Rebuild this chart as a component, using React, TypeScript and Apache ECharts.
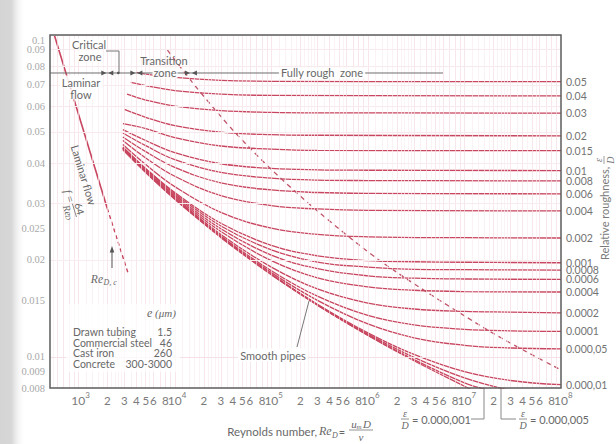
import React, { useEffect, useRef } from 'react';
import * as echarts from 'echarts';

const SANS = 'Lato, "Open Sans", "DejaVu Sans", sans-serif';
const SERIF = '"Liberation Serif", "DejaVu Serif", serif';
const CURVE_COLOR = '#c8465f';
const TEXT_COLOR = '#686868';

// ---- data: [Reynolds number, friction factor] ----
const roughnessLabels = ['0.05', '0.04', '0.03', '0.02', '0.015', '0.01', '0.008', '0.006', '0.004', '0.002', '0.001', '0.0008', '0.0006', '0.0004', '0.0002', '0.0001', '0.000,05', '0.000,01'];

const eps0_05 = [[4000, 0.0765], [5000, 0.0756], [1e4, 0.0738], [3e4, 0.0723], [1e5, 0.0718], [1e8, 0.0716]];
const eps0_04 = [[3500, 0.0712], [5000, 0.0696], [1e4, 0.0672], [3e4, 0.0655], [1e5, 0.0649], [1e8, 0.0647]];
const eps0_03 = [[3200, 0.0655], [5000, 0.0628], [1e4, 0.0601], [3e4, 0.0582], [1e5, 0.0575], [3e5, 0.0573], [1e8, 0.0572]];
const eps0_02 = [[3000, 0.0587], [5000, 0.0555], [1e4, 0.0523], [3e4, 0.0499], [1e5, 0.049], [3e5, 0.0488], [1e8, 0.0486]];
const eps0_015 = [[2900, 0.053], [5000, 0.0512], [1e4, 0.048], [3e4, 0.0452], [1e5, 0.0442], [3e5, 0.0438], [1e8, 0.0437]];
const eps0_01 = [[2900, 0.0508], [5000, 0.047], [1e4, 0.0431], [3e4, 0.0398], [1e5, 0.0385], [3e5, 0.0381], [1e6, 0.038], [1e8, 0.0379]];
const eps0_008 = [[2900, 0.0496], [5000, 0.0453], [1e4, 0.041], [3e4, 0.0374], [1e5, 0.0359], [3e5, 0.0354], [1e6, 0.0353], [1e8, 0.0352]];
const eps0_006 = [[2900, 0.0482], [5000, 0.0434], [1e4, 0.0388], [3e4, 0.0347], [1e5, 0.033], [3e5, 0.0324], [1e6, 0.0322], [1e8, 0.0321]];
const eps0_004 = [[2900, 0.047], [5000, 0.0415], [1e4, 0.0364], [3e4, 0.0317], [1e5, 0.0295], [3e5, 0.0288], [1e6, 0.0285], [1e8, 0.0284]];
const eps0_002 = [[2900, 0.0457], [5000, 0.0396], [1e4, 0.0338], [3e4, 0.0281], [1e5, 0.0251], [3e5, 0.024], [1e6, 0.0236], [1e7, 0.02345], [1e8, 0.0234]];
const eps0_001 = [[2900, 0.0449], [5000, 0.0385], [1e4, 0.0324], [3e4, 0.026], [1e5, 0.0222], [3e5, 0.0206], [1e6, 0.0199], [3e6, 0.01974], [1e7, 0.01967], [1e8, 0.0196]];
const eps0_0008 = [[2900, 0.0447], [5000, 0.0383], [1e4, 0.0321], [3e4, 0.0255], [1e5, 0.0215], [3e5, 0.0197], [1e6, 0.019], [3e6, 0.0187], [1e7, 0.01865], [1e8, 0.0186]];
const eps0_0006 = [[2900, 0.0446], [5000, 0.038], [1e4, 0.0318], [3e4, 0.025], [1e5, 0.0207], [3e5, 0.0188], [1e6, 0.01785], [3e6, 0.01756], [1e7, 0.01745], [1e8, 0.0174]];
const eps0_0004 = [[2900, 0.0445], [5000, 0.0378], [1e4, 0.0315], [3e4, 0.0245], [1e5, 0.0199], [3e5, 0.0176], [1e6, 0.0165], [3e6, 0.0161], [1e7, 0.01595], [1e8, 0.0159]];
const eps0_0002 = [[2900, 0.0444], [5000, 0.0376], [1e4, 0.0312], [3e4, 0.024], [1e5, 0.019], [3e5, 0.01625], [1e6, 0.01468], [3e6, 0.01408], [1e7, 0.01384], [3e7, 0.01377], [1e8, 0.0137]];
const eps0_0001 = [[2900, 0.0443], [5000, 0.0375], [1e4, 0.031], [3e4, 0.02374], [1e5, 0.01852], [3e5, 0.01543], [1e6, 0.01344], [3e6, 0.01256], [1e7, 0.01217], [3e7, 0.01204], [1e8, 0.012]];
const eps0_00005 = [[1e4, 0.0309], [3e4, 0.02361], [1e5, 0.01826], [3e5, 0.01498], [1e6, 0.01265], [3e6, 0.01146], [1e7, 0.01086], [3e7, 0.01065], [1e8, 0.01058]];
const eps0_00001 = [[3e4, 0.0235], [1e5, 0.01805], [3e5, 0.01457], [1e6, 0.01187], [3e6, 0.01017], [1e7, 0.00899], [3e7, 0.00844], [1e8, 0.00819]];
const eps0_000005 = [[1e5, 0.018], [3e5, 0.01452], [1e6, 0.01176], [3e6, 0.00996], [1e7, 0.0086], [3e7, 0.00786]];
const eps0_000001 = [[3e5, 0.01447], [1e6, 0.01168], [3e6, 0.0098], [1e7, 0.0083], [1.7e7, 0.0079]];
const smoothPipe = [[2900, 0.044], [5000, 0.03738], [1e4, 0.03089], [3e4, 0.02349], [1e5, 0.01799], [3e5, 0.01446], [1e6, 0.01165], [3e6, 0.00972], [1e7, 0.0081], [1.3e7, 0.0078]];

const laminarSolid = [[565, 0.1], [2000, 0.0289]];
const laminarDashed = [[2000, 0.0289], [3300, 0.0181]];
const fullyRoughBoundary = [[8400, 0.0897], [15000, 0.0716], [28000, 0.0572], [45000, 0.0487], [103000, 0.0379], [300000, 0.0284], [1.43e6, 0.0196], [1.83e7, 0.012], [1e8, 0.0091]];

const roughCurves = [eps0_05, eps0_04, eps0_03, eps0_02, eps0_015, eps0_01, eps0_008, eps0_006, eps0_004, eps0_002, eps0_001, eps0_0008, eps0_0006, eps0_0004, eps0_0002, eps0_0001, eps0_00005, eps0_00001];
const unlabeledCurves = [eps0_000005, eps0_000001, smoothPipe];

const xDecades = [3, 4, 5, 6, 7, 8];
const xMantissaLabels = [2, 3, 4, 5, 6, 8];
const yTickValues = [0.1, 0.09, 0.08, 0.07, 0.06, 0.05, 0.04, 0.03, 0.025, 0.02, 0.015, 0.01, 0.009, 0.008];
const yTickLabels = ['0.1', '0.09', '0.08', '0.07', '0.06', '0.05', '0.04', '0.03', '0.025', '0.02', '0.015', '0.01', '0.009', '0.008'];
const zoneBoundaries = [2000, 4000, 14700];
const materials = ['Drawn tubing', 'Commercial steel', 'Cast iron', 'Concrete'];
const materialRoughness = ['1.5', '46', '260', '300-3000'];

// ---- grid line positions (paper grid) ----
const GRID_MAJOR = '#f3dde2';
const GRID_MINOR = '#f8ecef';
const xGridMantissas = [1, 1.2, 1.4, 1.6, 1.8, 2, 2.2, 2.4, 2.6, 2.8, 3, 3.5, 4, 4.5, 5, 5.5, 6, 7, 8, 9];
function gridLines() {
  const out: any[] = [];
  for (let d = 2; d <= 7; d++) {
    for (const m of xGridMantissas) {
      const v = m * Math.pow(10, d);
      if (v > 515 && v < 0.99e8) {
        const major = Number.isInteger(m);
        out.push({ xAxis: v, lineStyle: { color: major ? GRID_MAJOR : GRID_MINOR, width: 0.7, type: 'solid' } });
      }
    }
  }
  const segs = [[80, 150, 5, 10], [150, 300, 10, 50], [300, 500, 20, 100], [500, 1000, 25, 100]];
  for (const [a, b, s, maj] of segs) {
    for (let k = a; k < b; k += s) {
      if (k === 80) continue;
      const major = k % maj === 0;
      out.push({ yAxis: k / 1e4, lineStyle: { color: major ? GRID_MAJOR : GRID_MINOR, width: 0.7, type: 'solid' } });
    }
  }
  return out;
}

function buildOption() {
  const base = { type: 'line', showSymbol: false, symbol: 'none', smooth: 0.4, silent: true, clip: true, z: 3 };
  const series: any[] = [];
  series.push({
    type: 'line', data: [[1e4, 0.05]], showSymbol: false, symbol: 'none', lineStyle: { opacity: 0 }, z: 1, silent: true,
    markLine: { silent: true, symbol: ['none', 'none'], animation: false, label: { show: false }, emphasis: { disabled: true }, lineStyle: { color: GRID_MINOR, width: 0.7, type: 'solid' }, data: gridLines() },
  });
  roughCurves.forEach((c, i) => {
    series.push({
      ...base, data: c, lineStyle: { color: CURVE_COLOR, width: 1.3 },
      endLabel: { show: true, formatter: roughnessLabels[i], color: '#737373', fontSize: 10.5, fontFamily: SANS, distance: 5 },
    });
  });
  unlabeledCurves.forEach((c) => series.push({ ...base, data: c, lineStyle: { color: CURVE_COLOR, width: 1.3 } }));
  series.push({ ...base, smooth: false, data: laminarSolid, lineStyle: { color: CURVE_COLOR, width: 1.6 } });
  series.push({ ...base, smooth: false, data: laminarDashed, lineStyle: { color: CURVE_COLOR, width: 1.4, type: [4, 3] } });
  series.push({ ...base, smooth: 0.3, data: fullyRoughBoundary, lineStyle: { color: '#bf5468', width: 1.3, type: [5, 4] } });
  return {
    animation: false,
    backgroundColor: '#ffffff',
    grid: { left: 50, right: 55, top: 35, bottom: 56, show: false },
    xAxis: { type: 'log', logBase: 10, min: 510, max: 1e8, axisLine: { show: false }, axisTick: { show: false }, axisLabel: { show: false }, splitLine: { show: false } },
    yAxis: { type: 'log', logBase: 10, min: 0.008, max: 0.1, axisLine: { show: false }, axisTick: { show: false }, axisLabel: { show: false }, splitLine: { show: false } },
    series,
  };
}

function buildGraphics(chart: any) {
  const P = (re: number, f: number) => chart.convertToPixel({ gridIndex: 0 }, [re, f]) as number[];
  const [L, T] = P(510, 0.1);
  const [R, B] = P(1e8, 0.008);
  const els: any[] = [];
  const text = (t: string, x: number, y: number, o: any = {}) => els.push({
    type: 'text', x, y, z: o.z ?? 20, silent: true,
    style: {
      text: t, fill: o.fill ?? TEXT_COLOR, fontSize: o.size ?? 11, fontFamily: o.family ?? SANS,
      fontStyle: o.italic ? 'italic' : 'normal', align: o.align ?? 'left', verticalAlign: o.va ?? 'middle',
      backgroundColor: o.bg, padding: o.pad,
    },
  });
  const line = (x1: number, y1: number, x2: number, y2: number, o: any = {}) => els.push({
    type: 'line', z: o.z ?? 20, silent: true, shape: { x1, y1, x2, y2 }, style: { stroke: o.stroke ?? '#7a7a7a', lineWidth: o.w ?? 1 },
  });
  const poly = (pts: number[][], fill = '#555') => els.push({ type: 'polygon', z: 21, silent: true, shape: { points: pts }, style: { fill } });

  // book gutter shading at the left edge
  els.push({
    type: 'rect', z: 0, silent: true, shape: { x: 0, y: 0, width: 26, height: 444 },
    style: { fill: { type: 'linear', x: 0, y: 0, x2: 1, y2: 0, colorStops: [{ offset: 0, color: 'rgba(205,205,205,0.85)' }, { offset: 0.45, color: 'rgba(190,190,190,0.6)' }, { offset: 1, color: 'rgba(255,255,255,0)' }] } },
  });

  // plot border
  els.push({ type: 'rect', z: 30, silent: true, shape: { x: L, y: T, width: R - L, height: B - T }, style: { fill: 'none', stroke: '#5c5c5c', lineWidth: 1.5 } });

  // x tick labels
  const ly = B + 12;
  xDecades.forEach((d) => {
    const x0 = P(Math.pow(10, d), 0.05)[0];
    text('10', x0, ly, { align: 'center', size: 12, fill: '#7a7a7a' });
    text(String(d), x0 + 7, ly - 5, { size: 8, fill: '#7a7a7a' });
    if (d < 8) {
      xMantissaLabels.forEach((m) => {
        text(String(m), P(m * Math.pow(10, d), 0.05)[0], ly, { align: 'center', size: 11.5, fill: '#7a7a7a' });
      });
    }
  });

  // y tick labels
  yTickValues.forEach((v, i) => {
    const y = P(1e4, v)[1] + (v === 0.1 ? 5 : 0);
    text(yTickLabels[i], L - 5, y, { align: 'right', family: SERIF, size: 10.5, fill: '#a8a8a8' });
  });

  // zone line with boundary markers
  const y0 = P(1e4, 0.0762)[1];
  const xr1 = P(1.29e5, 0.05)[0];
  const xr2 = P(8.7e5, 0.05)[0];
  const xr3 = P(6.0e6, 0.05)[0];
  line(L, y0, xr1, y0, { stroke: '#6e6e6e', w: 1, z: 18 });
  line(xr2, y0, xr3, y0, { stroke: '#6e6e6e', w: 1, z: 18 });
  zoneBoundaries.forEach((b) => {
    const bx = P(b, 0.05)[0];
    poly([[bx - 6, y0 - 2.5], [bx - 1, y0], [bx - 6, y0 + 2.5]]);
    poly([[bx + 6, y0 - 2.5], [bx + 1, y0], [bx + 6, y0 + 2.5]]);
  });
  els.push({ type: 'circle', z: 21, silent: true, shape: { cx: P(2600, 0.05)[0], cy: y0, r: 1.3 }, style: { fill: '#555' } });

  const bg = 'rgba(255,255,255,0.9)';
  // critical zone
  text('Critical', 89, 44, { align: 'center', bg, pad: [0, 1] });
  text('zone', 90, 56, { align: 'center', bg, pad: [0, 1] });
  line(106, 51, 119, 51, { stroke: '#777' });
  line(119, 51, 119, y0, { stroke: '#777' });
  // laminar flow
  text('Laminar', 81, 82, { align: 'center', bg, pad: [1, 2] });
  text('flow', 81, 94, { align: 'center', bg, pad: [0, 2] });
  // transition zone
  text('Transition', 164, 60, { align: 'center' });
  text('zone', 165, y0, { align: 'center', bg, pad: [0, 1] });
  // fully rough zone
  text('Fully rough  zone', (xr1 + xr2) / 2, y0, { align: 'center', bg, pad: [0, 2] });

  // laminar flow rotated label
  els.push({
    type: 'group', x: 84, y: 175, rotation: -1.274, z: 20, silent: true,
    children: [
      { type: 'text', z: 20, style: { text: 'Laminar flow', x: 0, y: 0, fill: TEXT_COLOR, fontSize: 11, fontFamily: SANS, align: 'center', verticalAlign: 'middle' } },
      { type: 'text', z: 20, style: { text: 'f =', x: 16, y: 20, fill: TEXT_COLOR, fontSize: 11, fontFamily: SERIF, fontStyle: 'italic', align: 'center', verticalAlign: 'middle' } },
      { type: 'text', z: 20, style: { text: '64', x: 31, y: 14, fill: TEXT_COLOR, fontSize: 10, fontFamily: SANS, align: 'center', verticalAlign: 'middle' } },
      { type: 'line', z: 20, shape: { x1: 24, y1: 19.5, x2: 38, y2: 19.5 }, style: { stroke: '#777', lineWidth: 0.8 } },
      { type: 'text', z: 20, style: { text: 'Re', x: 29, y: 26, fill: TEXT_COLOR, fontSize: 10, fontFamily: SERIF, fontStyle: 'italic', align: 'center', verticalAlign: 'middle' } },
      { type: 'text', z: 20, style: { text: 'D', x: 36, y: 28, fill: TEXT_COLOR, fontSize: 7, fontFamily: SERIF, fontStyle: 'italic', align: 'center', verticalAlign: 'middle' } },
    ],
  });

  // Re_D,c with arrow
  text('Re', 103, 279, { align: 'right', family: SERIF, italic: true, size: 11.5 });
  text('D, c', 103.5, 282, { family: SERIF, italic: true, size: 8 });
  line(112, 268, 112, 251, { stroke: '#555' });
  poly([[112, 246], [109.7, 252.5], [114.3, 252.5]]);

  // roughness legend block
  els.push({ type: 'rect', z: 15, silent: true, shape: { x: 66, y: 304, width: 114, height: 68 }, style: { fill: 'rgba(255,255,255,0.72)' } });
  text('e', 147, 313, { family: SERIF, italic: true, size: 12 });
  text('(μm)', 155, 313, { family: SERIF, italic: true, size: 11 });
  materials.forEach((m, i) => {
    const y = 332 + i * 10.7;
    text(m, 73, y, { size: 10.5 });
    text(materialRoughness[i], 172, y, { size: 10.5, align: 'right' });
  });

  // smooth pipes
  text('Smooth pipes', 273, 355, { align: 'center', bg, pad: [1, 2] });
  line(297, 347, 309, 301, { stroke: '#777' });

  // bottom roughness annotations
  const frac = (x: number, y: number) => {
    text('ε', x, y - 6, { align: 'center', family: SERIF, italic: true, size: 10 });
    line(x - 4, y, x + 4, y, { stroke: '#777', w: 0.8 });
    text('D', x, y + 6, { align: 'center', family: SERIF, italic: true, size: 10 });
  };
  frac(405, 419);
  text('= 0.000,001', 412, 419, { size: 11 });
  line(471, 419, 484, 419, { stroke: '#888' });
  line(484, 419, 484, B, { stroke: '#888' });
  line(501, B, 501, 419, { stroke: '#888' });
  line(501, 419, 516, 419, { stroke: '#888' });
  frac(523, 419);
  text('= 0.000,005', 530, 419, { size: 11 });

  // x axis title
  text('Reynolds number,', 317, 431, { align: 'right', size: 11.5 });
  text('Re', 319, 431, { family: SERIF, italic: true, size: 12 });
  text('D', 332, 435, { family: SERIF, italic: true, size: 8 });
  text('=', 342, 431, { align: 'center', size: 11 });
  text('u', 354, 424, { family: SERIF, italic: true, size: 11, align: 'center' });
  text('m', 359, 427, { family: SERIF, italic: true, size: 7, align: 'center' });
  text('D', 367, 424, { family: SERIF, italic: true, size: 11, align: 'center' });
  line(349, 430, 373, 430, { stroke: '#777', w: 0.8 });
  text('ν', 361, 437, { family: SERIF, italic: true, size: 11, align: 'center' });

  // right axis title (rotated)
  els.push({
    type: 'group', x: 604, y: 260, rotation: Math.PI / 2, z: 20, silent: true,
    children: [
      { type: 'text', z: 20, style: { text: 'Relative roughness,', x: 0, y: 0, fill: '#7a7a7a', fontSize: 11, fontFamily: SANS, align: 'left', verticalAlign: 'middle' } },
      { type: 'text', z: 20, style: { text: 'ε', x: 100, y: -6, fill: '#7a7a7a', fontSize: 10, fontFamily: SERIF, fontStyle: 'italic', align: 'center', verticalAlign: 'middle' } },
      { type: 'line', z: 20, shape: { x1: 96, y1: 0, x2: 104, y2: 0 }, style: { stroke: '#888', lineWidth: 0.8 } },
      { type: 'text', z: 20, style: { text: 'D', x: 100, y: 6, fill: '#7a7a7a', fontSize: 10, fontFamily: SERIF, fontStyle: 'italic', align: 'center', verticalAlign: 'middle' } },
    ],
  });

  return els;
}

export default function App() {
  const ref = useRef<HTMLDivElement>(null);
  useEffect(() => {
    if (!ref.current) return;
    const chart = echarts.init(ref.current, undefined, { renderer: 'svg' });
    chart.setOption(buildOption() as any);
    chart.setOption({ graphic: { elements: buildGraphics(chart) } } as any);
    return () => chart.dispose();
  }, []);
  return <div ref={ref} style={{ position: 'fixed', left: 0, top: 0, width: 616, height: 444, background: '#fff' }} />;
}
